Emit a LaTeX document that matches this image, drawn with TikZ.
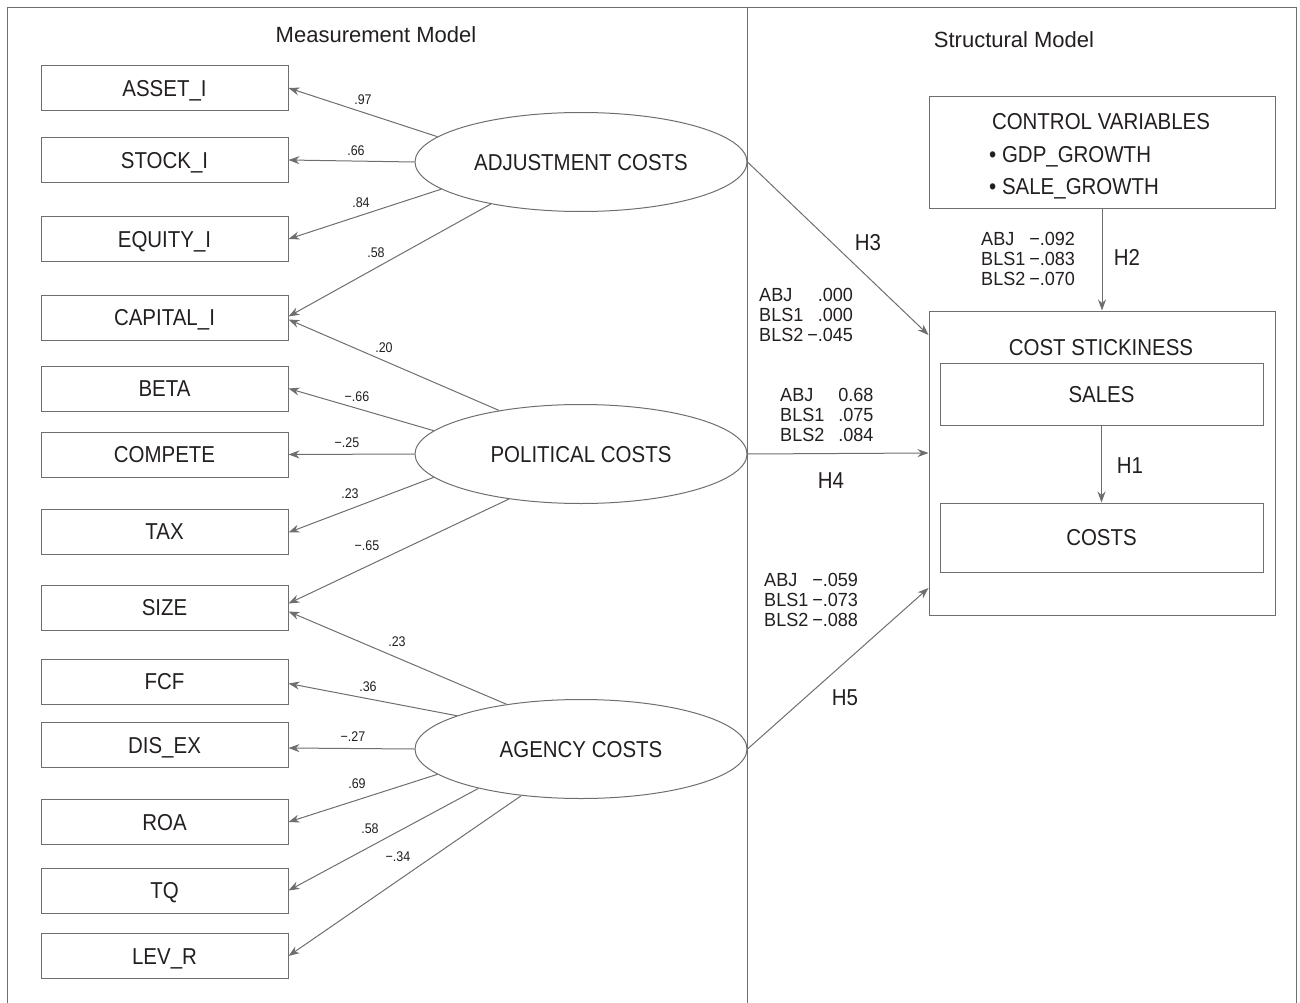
\documentclass[tikz,border=0pt]{standalone}
\usepackage{fontspec}
\setmainfont{Liberation Sans}[FakeStretch=0.89]
\newfontfamily\valfont{Liberation Sans}[FakeStretch=0.95]
\newfontfamily\ttlfont{Liberation Sans}
\usetikzlibrary{shapes.geometric,arrows.meta}
\definecolor{lc}{HTML}{6E6E6E}
\definecolor{tc}{HTML}{231F20}
\begin{document}
\begin{tikzpicture}[x=1pt,y=-1pt,
  ln/.style={draw=lc, line width=1pt},
  arr/.style={ln, -{Stealth[length=11pt,width=8pt]}},
  capc/.style={text height=16.5pt, text depth=0pt},
  obs/.style={draw=lc, line width=1pt, minimum width=247pt, minimum height=45pt, inner sep=0pt, capc, text=tc, font=\fontsize{23}{25}\selectfont},
  lat/.style={ellipse, draw=lc, line width=1pt, minimum width=332pt, minimum height=99pt, inner sep=0pt, capc, text=tc, font=\fontsize{23}{25}\selectfont},
  coef/.style={inner sep=0pt, text=tc, font=\fontsize{14}{16}\selectfont},
  vals/.style={inner sep=0pt, anchor=west, text=tc, font=\valfont\fontsize{19}{20}\selectfont},
  hyp/.style={inner sep=0pt, capc, text=tc, font=\fontsize{23}{25}\selectfont},
  title/.style={inner sep=0pt, text=tc, font=\ttlfont\fontsize{22}{24}\selectfont},
  box/.style={draw=lc, line width=1pt, inner sep=0pt}
]
\useasboundingbox (0,0) rectangle (1300,1003);
% frame
\coordinate (fbl) at (7,1003);
\coordinate (ftl) at (7,8);
\coordinate (ftr) at (1296,8);
\coordinate (fbr) at (1296,1003);
\coordinate (dt) at (747,8);
\coordinate (db) at (747,1003);
\draw[ln] (fbl) -- (ftl) -- (ftr) -- (fbr);
\draw[ln] (dt) -- (db);

\node[title] (mm) at (376,35) {Measurement Model};
\node[title] (sm) at (1014,40) {Structural Model};

% observed
\node[obs] (asset) at (164.5,88) {ASSET\_I};
\node[obs] (stock) at (164.5,160) {STOCK\_I};
\node[obs] (equity) at (164.5,239) {EQUITY\_I};
\node[obs] (capital) at (164.5,317.5) {CAPITAL\_I};
\node[obs] (beta) at (164.5,388.5) {BETA};
\node[obs] (compete) at (164.5,454.5) {COMPETE};
\node[obs] (tax) at (164.5,531.5) {TAX};
\node[obs] (size) at (164.5,607.5) {SIZE};
\node[obs] (fcf) at (164.5,681.5) {FCF};
\node[obs] (disex) at (164.5,745) {DIS\_EX};
\node[obs] (roa) at (164.5,822) {ROA};
\node[obs] (tq) at (164.5,890.5) {TQ};
\node[obs] (levr) at (164.5,956) {LEV\_R};

% latent
\node[lat] (adj) at (581,162) {ADJUSTMENT COSTS};
\node[lat] (pol) at (581,454) {POLITICAL COSTS};
\node[lat] (age) at (581,749) {AGENCY COSTS};

% loadings
\draw[arr] (adj.170.8) -- (asset.east);
\draw[arr] (adj.west) -- (stock.east);
\draw[arr] (adj.191.2) -- (equity.east);
\draw[arr] (adj.205.3) -- ([yshift=1pt]capital.east);
\draw[arr] (pol.152.9) -- ([yshift=-2pt]capital.east);
\draw[arr] (pol.171.7) -- (beta.east);
\draw[arr] (pol.west) -- (compete.east);
\draw[arr] (pol.189.6) -- ([yshift=-1pt]tax.east);
\draw[arr] (pol.212.4) -- ([yshift=4pt]size.east);
\draw[arr] (age.149.4) -- ([yshift=-4pt]size.east);
\draw[arr] (age.165) -- ([yshift=-2pt]fcf.east);
\draw[arr] (age.west) -- ([yshift=-3pt]disex.east);
\draw[arr] (age.190) -- (roa.east);
\draw[arr] (age.201.1) -- (tq.east);
\draw[arr] (age.218.2) -- (levr.east);

\node[coef] (c1) at (363,100) {.97};
\node[coef] (c2) at (356,151) {.66};
\node[coef] (c3) at (361,203) {.84};
\node[coef] (c4) at (376,253) {.58};
\node[coef] (c5) at (384,348) {.20};
\node[coef] (c6) at (357,397) {−.66};
\node[coef] (c7) at (347,443) {−.25};
\node[coef] (c8) at (350,494) {.23};
\node[coef] (c9) at (367,546) {−.65};
\node[coef] (c10) at (397,642) {.23};
\node[coef] (c11) at (368,687) {.36};
\node[coef] (c12) at (353,737) {−.27};
\node[coef] (c13) at (357,784) {.69};
\node[coef] (c14) at (370,829) {.58};
\node[coef] (c15) at (398,857) {−.34};

% structural
\node[box, minimum width=346pt, minimum height=111pt] (ctrl) at (1102,152.5) {};
\node[hyp] (ctrlt) at (1101,121) {CONTROL VARIABLES};
\node[hyp, anchor=west] (gdp) at (989,154) {• GDP\_GROWTH};
\node[hyp, anchor=west] (sale) at (989,186) {• SALE\_GROWTH};

\node[box, minimum width=346pt, minimum height=304pt] (stick) at (1102,463) {};
\node[hyp] (stickt) at (1101,347) {COST STICKINESS};
\node[box, minimum width=323pt, minimum height=62pt, capc, text=tc, font=\fontsize{23}{25}\selectfont] (sales) at (1101.5,394) {SALES};
\node[box, minimum width=323pt, minimum height=69pt, capc, text=tc, font=\fontsize{23}{25}\selectfont] (costs) at (1101.5,537.5) {COSTS};

\draw[arr] (ctrl.south) -- (stick.north);
\draw[arr] (sales.south) -- (costs.north);
\draw[arr] (adj.east) -- ([yshift=128pt]stick.west);
\draw[arr] (pol.east) -- ([yshift=10pt]stick.west);
\draw[arr] (age.east) -- ([yshift=-125pt]stick.west);

\node[hyp] (h1) at (1130,465) {H1};
\node[hyp] (h2) at (1127,257) {H2};
\node[hyp] (h3) at (868,242) {H3};
\node[hyp] (h4) at (831,480) {H4};
\node[hyp] (h5) at (845,697) {H5};

\node[vals] (v3) at (759,317) {\begin{tabular}{@{}l@{\hspace{4pt}}r@{}}ABJ & .000\\ BLS1 & .000\\ BLS2 & −.045\end{tabular}};
\node[vals] (v4) at (780,417) {\begin{tabular}{@{}l@{\hspace{14pt}}l@{}}ABJ & 0.68\\ BLS1 & .075\\ BLS2 & .084\end{tabular}};
\node[vals] (v2) at (981,261) {\begin{tabular}{@{}l@{\hspace{4pt}}r@{}}ABJ & −.092\\ BLS1 & −.083\\ BLS2 & −.070\end{tabular}};
\node[vals] (v5) at (764,602) {\begin{tabular}{@{}l@{\hspace{4pt}}r@{}}ABJ & −.059\\ BLS1 & −.073\\ BLS2 & −.088\end{tabular}};
\end{tikzpicture}
\end{document}
